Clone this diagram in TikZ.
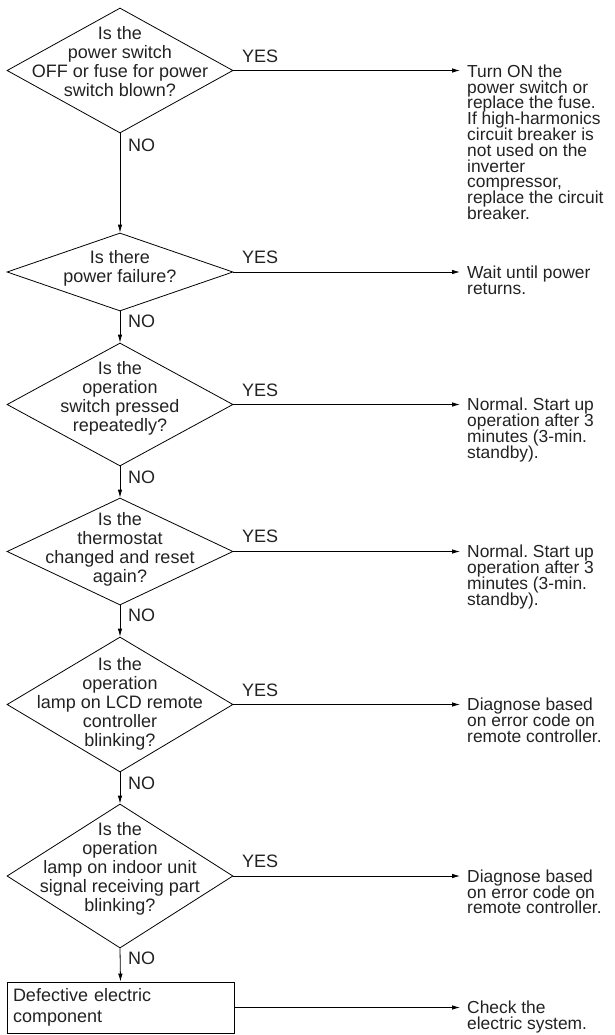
\documentclass[tikz,border=0pt]{standalone}
\usepackage{fontspec}
\setmainfont{Liberation Sans}
\usetikzlibrary{shapes.geometric,arrows.meta}
\frenchspacing
\newcommand\qfont{\fontsize{18}{19}\selectfont\lineskiplimit=-100pt\relax}
\newcommand\bfontx{\fontsize{18}{21}\selectfont\lineskiplimit=-100pt\relax}
\newcommand\afont{\fontsize{17.4}{15.8}\selectfont\lineskiplimit=-100pt\relax}
\newcommand\lfont{\fontsize{18}{18}\selectfont}
\definecolor{ink}{HTML}{222222}
\tikzset{
  dia/.style={draw, diamond, inner sep=0pt, minimum width=226pt, minimum height=#1, line width=0.8pt},
  qtext/.style={align=center, font=\qfont, inner sep=0pt, text=ink},
  ans/.style={anchor=north west, align=left, inner sep=0pt, font=\afont, text=ink},
  lbl/.style={anchor=west, inner sep=0pt, font=\lfont, text=ink},
  boxnode/.style={draw, line width=0.8pt, minimum width=227pt, minimum height=51pt, text width=215pt, inner xsep=6pt, align=left, font=\bfontx, text=ink},
  arr/.style={-{Latex[length=8pt,width=4.5pt]}, line width=0.8pt},
  yarr/.style={arr, shorten >=7pt}
}
\begin{document}
\begin{tikzpicture}[x=1pt,y=-1pt]
\useasboundingbox (0,0) rectangle (614,1035);
% diamonds
\node[dia=125pt] (d1) at (120,70.5) {};
\node[dia=78pt]  (d2) at (120,272) {};
\node[dia=123pt] (d3) at (120,404.5) {};
\node[dia=107pt] (d4) at (120,551.5) {};
\node[dia=135pt] (d5) at (120,704.5) {};
\node[dia=144pt] (d6) at (120,876) {};
\node[boxnode] (bx) at (120.5,1007.5) {Defective electric\\component};
% question texts
\node[qtext] (t1) at (120,62) {Is the\\power switch\\OFF or fuse for power\\switch blown?};
\node[qtext] (t2) at (120,268) {Is there\\power failure?};
\node[qtext] (t3) at (120,398) {Is the\\operation\\switch pressed\\repeatedly?};
\node[qtext] (t4) at (120,549) {Is the\\thermostat\\changed and reset\\again?};
\node[qtext] (t5) at (120,704) {Is the\\operation\\lamp on LCD remote\\controller\\blinking?};
\node[qtext] (t6) at (120,869) {Is the\\operation\\lamp on indoor unit\\signal receiving part\\blinking?};
% answers
\node[ans] (r1) at (467,64.5) {Turn ON the\\power switch or\\replace the fuse.\\If high-harmonics\\circuit breaker is\\not used on the\\inverter\\compressor,\\replace the circuit\\breaker.};
\node[ans] (r2) at (467,265.5) {Wait until power\\returns.};
\node[ans] (r3) at (467,398) {Normal. Start up\\operation after 3\\minutes (3-min.\\standby).};
\node[ans] (r4) at (467,545) {Normal. Start up\\operation after 3\\minutes (3-min.\\standby).};
\node[ans] (r5) at (467,698) {Diagnose based\\on error code on\\remote controller.};
\node[ans] (r6) at (467,869.5) {Diagnose based\\on error code on\\remote controller.};
\node[ans] (r7) at (467,1001) {Check the\\electric system.};
% YES labels
\node[lbl] (y1) at (242,56) {YES};
\node[lbl] (y2) at (242,257) {YES};
\node[lbl] (y3) at (242,390) {YES};
\node[lbl] (y4) at (242,536) {YES};
\node[lbl] (y5) at (242,690) {YES};
\node[lbl] (y6) at (242,861) {YES};
% NO labels
\node[lbl] (n1) at (128,145) {NO};
\node[lbl] (n2) at (128,321) {NO};
\node[lbl] (n3) at (128,477) {NO};
\node[lbl] (n4) at (128,615) {NO};
\node[lbl] (n5) at (128,783) {NO};
\node[lbl] (n6) at (128,958) {NO};
% vertical connectors
\draw[arr] (d1.south) -- (d2.north);
\draw[arr] (d2.south) -- (d3.north);
\draw[arr] (d3.south) -- (d4.north);
\draw[arr] (d4.south) -- (d5.north);
\draw[arr] (d5.south) -- (d6.north);
\draw[arr] (d6.south) -- (bx.north);
% horizontal connectors
\draw[yarr] (d1.east) -- (d1.east -| r1.west);
\draw[yarr] (d2.east) -- (d2.east -| r2.west);
\draw[yarr] (d3.east) -- (d3.east -| r3.west);
\draw[yarr] (d4.east) -- (d4.east -| r4.west);
\draw[yarr] (d5.east) -- (d5.east -| r5.west);
\draw[yarr] (d6.east) -- (d6.east -| r6.west);
\draw[yarr] (bx.east) -- (bx.east -| r7.west);
\end{tikzpicture}
\end{document}
